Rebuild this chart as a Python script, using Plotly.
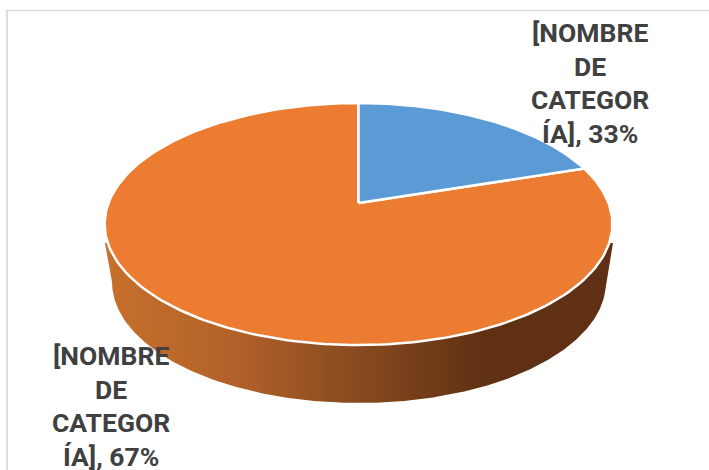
import numpy as np
import plotly.graph_objects as go

categories = ["[NOMBRE DE CATEGORÍA]", "[NOMBRE DE CATEGORÍA]"]
slice_values = [20, 80]          # share of the circle as drawn
label_lines = [["[NOMBRE", "DE", "CATEGOR", "ÍA], 33%"],
               ["[NOMBRE", "DE", "CATEGOR", "ÍA], 67%"]]
slice_colors = ["#5B9BD5", "#EB7C31"]

W, H = 709, 470
CX, CY, A, B, P = 358.5, 203.0, 250.0, 117.4, 0.1736


def project(theta):
    d = 1 + P * np.cos(theta)
    return CX + A * np.sin(theta) / d, CY - B * np.cos(theta) / d


def wedge(start, stop):
    t = np.linspace(start, stop, 240)
    x, y = project(t)
    return [CX, *x, CX], [CY, *y, CY]


fig = go.Figure()

# side wall
t = np.linspace(0, 2 * np.pi, 721)
bx = 359 + 247 * np.cos(t)
by = 282 + 121 * np.sin(t)
lower = t <= np.pi
order = np.argsort(-bx[lower])
sx = [613, *bx[lower][order], 105]
sy = [243, *by[lower][order], 243]
fig.add_trace(go.Scatter(
    x=sx, y=sy, mode="lines", fill="toself", line=dict(width=0),
    fillgradient=dict(type="horizontal", start=105, stop=613, colorscale=[
        [0, "#C8702C"], [0.25, "#B2622A"], [0.5, "#874A1E"],
        [0.75, "#5F3013"], [1, "#5F3013"]]),
    hoverinfo="skip", showlegend=False))

# top face
fractions = np.cumsum([0] + slice_values) / sum(slice_values)
for i in (1, 0):
    x, y = wedge(2 * np.pi * fractions[i], 2 * np.pi * fractions[i + 1])
    fig.add_trace(go.Scatter(
        x=x, y=y, mode="lines", fill="toself", fillcolor=slice_colors[i],
        line=dict(color="white", width=2.5), name=categories[i],
        hoverinfo="skip", showlegend=False))

annotations = []
for lines, x0, y0 in zip(label_lines, (590, 111), (32, 355)):
    for k, line in enumerate(lines):
        annotations.append(dict(
            x=x0, y=y0 + k * 33.6, text=line, showarrow=False,
            xref="x", yref="y", xanchor="center", yanchor="middle",
            height=28, borderpad=0, font=dict(family="Roboto", size=26.5, color="#404040", weight="bold")))

fig.update_layout(
    width=W, height=H, autosize=False,
    margin=dict(l=0, r=0, t=0, b=0),
    paper_bgcolor="white", plot_bgcolor="white",
    xaxis=dict(range=[0, W], visible=False, fixedrange=True),
    yaxis=dict(range=[H, 0], visible=False, fixedrange=True),
    annotations=annotations,
    shapes=[
        dict(type="line", x0=7, x1=7, y0=10, y1=H, line=dict(color="#DDDDDD", width=2), layer="below"),
        dict(type="line", x0=6, x1=W, y0=10.5, y1=10.5, line=dict(color="#DDDDDD", width=1.5), layer="below"),
    ],
)
fig.write_html("out.html", config={"displayModeBar": False},
               post_script="document.body.style.margin='0';document.documentElement.style.overflow='hidden';")
